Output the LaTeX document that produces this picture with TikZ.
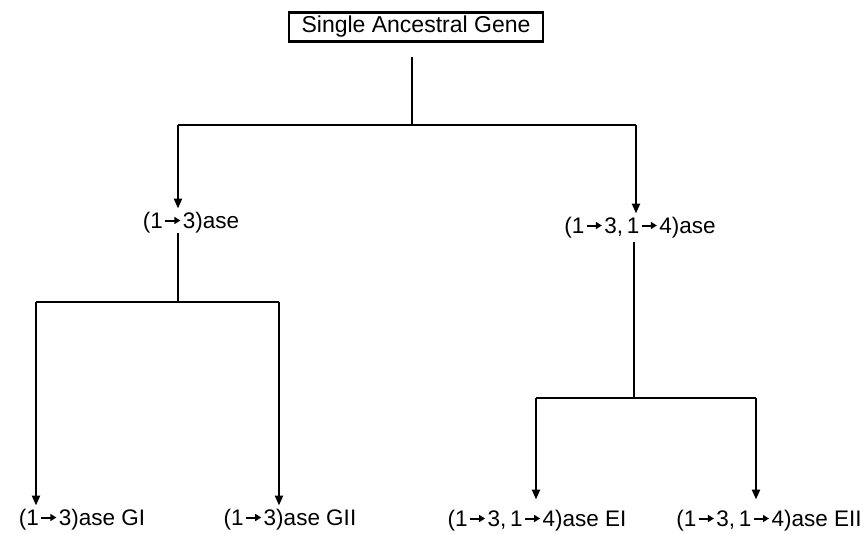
\documentclass[tikz,border=0pt]{standalone}
\usepackage{fontspec}
\setmainfont{Liberation Sans}
\usetikzlibrary{arrows.meta}
\newcommand{\rarr}{\hspace{1.5pt}\tikz[baseline=0pt,x=1pt,y=1pt]{\draw[line width=2pt,-{Triangle[length=6pt,width=7pt]}] (0,7.5) -- (15,7.5);}\hspace{1.5pt}}
\begin{document}
\begin{tikzpicture}[x=1pt,y=-1pt,
  lbl/.style={anchor=base,inner sep=0pt,font=\fontsize{22.5}{27}\selectfont},
  ln/.style={line width=2.8pt},
  arr/.style={line width=2.4pt,-{Triangle[length=10pt,width=8pt]}},
]
\useasboundingbox (0,0) rectangle (864,533);
\node[draw,line width=2.2pt,minimum width=254pt,minimum height=29pt,inner sep=0pt,
  font=\fontsize{23}{27}\selectfont] (top) at (416,27) {Single Ancestral Gene};
\coordinate (t0) at (412,57);
\coordinate (j0) at (412,125);
\coordinate (jl) at (178,125);
\coordinate (jr) at (636,125);
\node[lbl] (A) at (191,228) {(1\rarr3)ase};
\node[lbl] (B) at (640,233) {(1\rarr3,\,1\rarr4)ase};
\draw[ln] (t0) -- (j0);
\draw[ln] (jl) -- (jr);
\draw[arr,shorten >=3pt] (jl) -- (jl |- A.north);
\draw[arr,shorten >=3pt] (jr) -- (jr |- B.north);
% left subtree
\coordinate (a1) at (178,302);
\coordinate (al) at (36,302);
\coordinate (ar) at (279,302);
\node[lbl] (GI) at (82,525) {(1\rarr3)ase GI};
\node[lbl] (GII) at (290,525) {(1\rarr3)ase GII};
\draw[ln] (A.south -| a1) -- (a1);
\draw[ln] (al) -- (ar);
\draw[arr,shorten >=3pt] (al) -- (al |- GI.north);
\draw[arr,shorten >=3pt] (ar) -- (ar |- GII.north);
% right subtree
\coordinate (b1) at (634,398);
\coordinate (bl) at (536,398);
\coordinate (br) at (756,398);
\node[lbl] (EI) at (537,526) {(1\rarr3,\,1\rarr4)ase EI};
\node[lbl] (EII) at (769,526) {(1\rarr3,\,1\rarr4)ase EII};
\draw[ln,shorten <=4pt] (B.south -| b1) -- (b1);
\draw[ln] (bl) -- (br);
\draw[arr,shorten >=10pt] (bl) -- (bl |- EI.north);
\draw[arr,shorten >=10pt] (br) -- (br |- EII.north);
\end{tikzpicture}
\end{document}
